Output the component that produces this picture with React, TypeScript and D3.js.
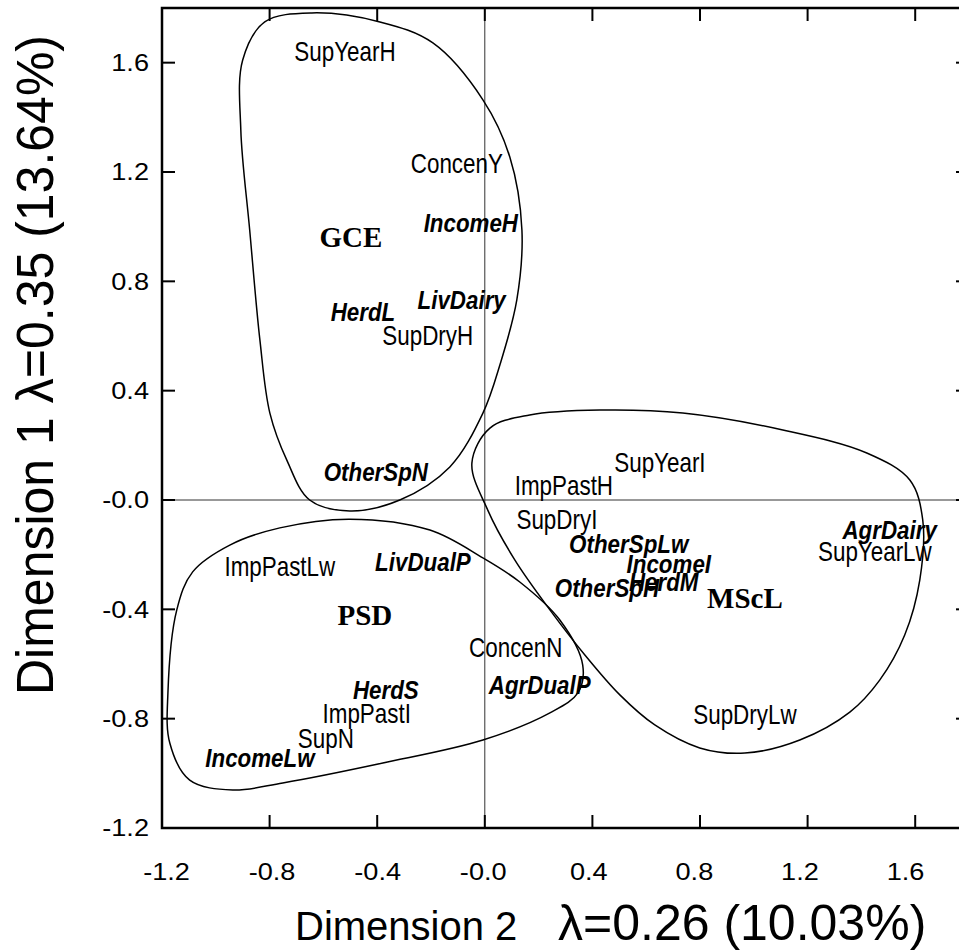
import React from 'react';
import * as d3 from 'd3';

// axis ticks
const tickValues = [-1.2, -0.8, -0.4, 0, 0.4, 0.8, 1.2, 1.6];
const tickLabels = ['-1.2', '-0.8', '-0.4', '-0.0', '0.4', '0.8', '1.2', '1.6'];

// category points (dimension 2, dimension 1)
const plainLabels: [string, number, number][] = [
  ['SupYearH', -0.52, 1.64],
  ['ConcenY', -0.104, 1.233],
  ['SupDryH', -0.212, 0.604],
  ['ImpPastH', 0.294, 0.055],
  ['SupYearI', 0.651, 0.139],
  ['SupDryI', 0.268, -0.07],
  ['SupYearLw', 1.45, -0.187],
  ['ConcenN', 0.115, -0.538],
  ['ImpPastLw', -0.762, -0.241],
  ['ImpPastI', -0.439, -0.779],
  ['SupN', -0.591, -0.871],
  ['SupDryLw', 0.967, -0.783],
];

const italicLabels: [string, number, number][] = [
  ['IncomeH', -0.052, 1.013],
  ['LivDairy', -0.086, 0.732],
  ['HerdL', -0.453, 0.688],
  ['OtherSpN', -0.405, 0.102],
  ['OtherSpLw', 0.535, -0.161],
  ['IncomeI', 0.684, -0.234],
  ['HerdM', 0.665, -0.3],
  ['OtherSpH', 0.454, -0.322],
  ['AgrDairy', 1.505, -0.11],
  ['AgrDualP', 0.204, -0.677],
  ['LivDualP', -0.23, -0.227],
  ['HerdS', -0.368, -0.692],
  ['IncomeLw', -0.836, -0.944],
];

const groupLabels: [string, number, number][] = [
  ['GCE', -0.498, 0.962],
  ['PSD', -0.446, -0.42],
  ['MScL', 0.967, -0.359],
];

// group outlines
const gceHull: [number, number][] = [
  [-0.643, 1.782], [-0.39, 1.749], [-0.193, 1.672], [-0.007, 1.464], [0.093, 1.255],
  [0.138, 0.988], [0.119, 0.732], [0.056, 0.494], [-0.007, 0.318], [-0.13, 0.121],
  [-0.316, 0.0], [-0.502, -0.04], [-0.651, 0.0], [-0.736, 0.146], [-0.799, 0.318],
  [-0.836, 0.585], [-0.874, 0.988], [-0.907, 1.354], [-0.9, 1.61], [-0.818, 1.749],
];

const psdHull: [number, number][] = [
  [-0.502, -0.07], [-0.204, -0.11], [-0.007, -0.212], [0.13, -0.3], [0.279, -0.439],
  [0.364, -0.604], [0.346, -0.706], [0.242, -0.779], [-0.007, -0.878], [-0.379, -0.962],
  [-0.751, -1.035], [-0.937, -1.061], [-1.097, -1.025], [-1.171, -0.889], [-1.178, -0.706],
  [-1.145, -0.402], [-1.086, -0.263], [-0.948, -0.165], [-0.762, -0.102],
];

const msclHull: [number, number][] = [
  [-0.048, 0.135], [0.019, 0.263], [0.167, 0.311], [0.428, 0.329], [0.736, 0.318],
  [1.108, 0.256], [1.42, 0.172], [1.58, 0.073], [1.628, -0.073], [1.617, -0.293],
  [1.561, -0.494], [1.468, -0.659], [1.357, -0.776], [1.171, -0.878], [0.967, -0.926],
  [0.799, -0.907], [0.632, -0.823], [0.502, -0.713], [0.372, -0.567], [0.242, -0.402],
  [0.112, -0.22], [0.011, -0.037],
];

const W = 959;
const H = 951;

export default function App() {
  const x = d3.scaleLinear().domain([-1.2, 1.8]).range([162, 969]);
  const y = d3.scaleLinear().domain([-1.2, 1.8]).range([828, 8]);
  // tick labels sit on a slightly tighter spacing than the ticks
  const xLab = d3.scaleLinear().domain([-1.2, 1.6]).range([166.5, 905.5]);

  const hull = d3.line<[number, number]>()
    .x(d => x(d[0]))
    .y(d => y(d[1]))
    .curve(d3.curveCatmullRomClosed.alpha(0.5));

  const tl = 13;
  const sans = 'Liberation Sans, Arial, sans-serif';

  return (
    <div style={{ position: 'absolute', left: 0, top: 0 }}>
      <svg width={W} height={H} style={{ display: 'block', background: '#fff' }}>
        {/* zero lines */}
        <line x1={x(-1.2)} x2={x(1.8)} y1={y(0)} y2={y(0)} stroke="#333" strokeWidth={1} />
        <line x1={x(0)} x2={x(0)} y1={y(1.8)} y2={y(-1.2)} stroke="#333" strokeWidth={1} />

        {/* hulls */}
        {[gceHull, psdHull, msclHull].map((h, i) => (
          <path key={i} d={hull(h) || ''} fill="none" stroke="#000" strokeWidth={1.5} />
        ))}

        {/* frame */}
        <rect x={x(-1.2)} y={y(1.8)} width={x(1.8) - x(-1.2)} height={y(-1.2) - y(1.8)}
          fill="none" stroke="#000" strokeWidth={2.5} />

        {/* ticks */}
        {tickValues.map(v => (
          <g key={'t' + v} stroke="#000" strokeWidth={2}>
            <line x1={x(v)} x2={x(v)} y1={y(-1.2)} y2={y(-1.2) - tl} />
            <line x1={x(v)} x2={x(v)} y1={y(1.8)} y2={y(1.8) + tl} />
            <line x1={x(-1.2)} x2={x(-1.2) + tl} y1={y(v)} y2={y(v)} />
            <line x1={x(1.8)} x2={x(1.8) - tl} y1={y(v)} y2={y(v)} />
          </g>
        ))}

        {/* tick labels */}
        {tickValues.map((v, i) => (
          <g key={'xl' + v} transform={`translate(${xLab(v)},880) scale(1.18,1)`}>
            <text textAnchor="middle" fontFamily={sans} fontSize={23}>{tickLabels[i]}</text>
          </g>
        ))}
        {tickValues.map((v, i) => (
          <g key={'yl' + v} transform={`translate(149,${y(v)}) scale(1.18,1)`}>
            <text textAnchor="end" dy="0.36em" fontFamily={sans} fontSize={23}>{tickLabels[i]}</text>
          </g>
        ))}

        {/* point labels */}
        {plainLabels.map(([name, a, b]) => (
          <g key={name} transform={`translate(${x(a)},${y(b)}) scale(0.83,1)`}>
            <text textAnchor="middle" dy="0.36em" fontFamily={sans} fontSize={27}>{name}</text>
          </g>
        ))}
        {italicLabels.map(([name, a, b]) => (
          <g key={name} transform={`translate(${x(a)},${y(b)}) scale(0.86,1)`}>
            <text textAnchor="middle" dy="0.36em" fontFamily={sans} fontSize={26}
              fontWeight="bold" fontStyle="italic">{name}</text>
          </g>
        ))}
        {groupLabels.map(([name, a, b]) => (
          <text key={name} x={x(a)} y={y(b)} dy="0.34em" textAnchor="middle"
            fontFamily="Liberation Serif, Times New Roman, serif" fontWeight="bold" fontSize={29}>{name}</text>
        ))}

        {/* axis titles */}
        <text x={295} y={940} fontFamily={sans}>
          <tspan fontSize={40}>Dimension 2</tspan>
          <tspan x={558} fontSize={50}>λ=0.26 (10.03%)</tspan>
        </text>
        <text transform="translate(53,365) rotate(-90)" textAnchor="middle" fontFamily={sans}
          fontSize={52} textLength={660} lengthAdjust="spacingAndGlyphs">
          Dimension 1 λ=0.35 (13.64%)
        </text>
      </svg>
    </div>
  );
}
